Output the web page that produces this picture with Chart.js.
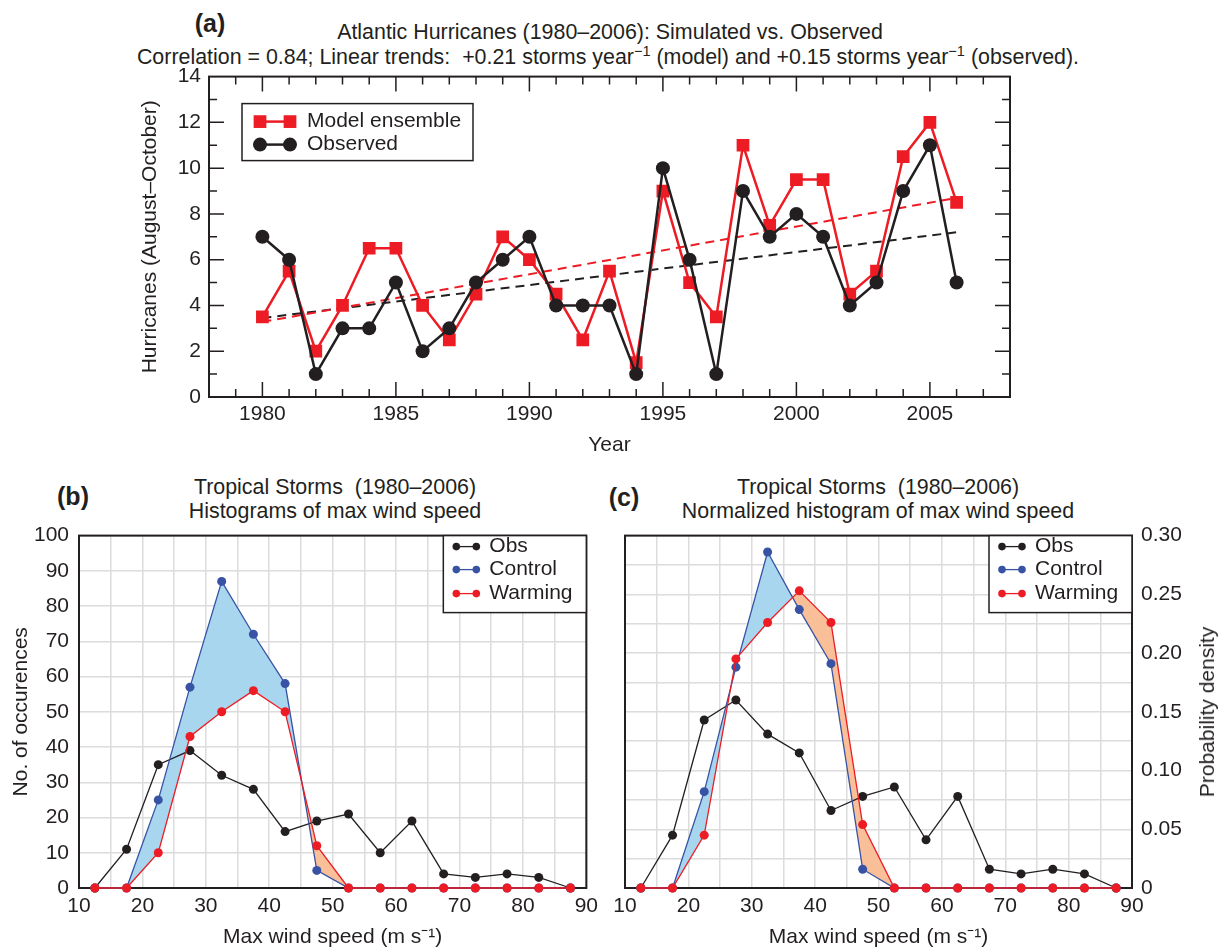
<!DOCTYPE html>
<html>
<head>
<meta charset="utf-8">
<script src="https://cdn.jsdelivr.net/npm/chart.js@4.4.1/dist/chart.umd.min.js"></script>
<style>
  body { margin: 0; background: #fff; width: 1226px; height: 952px; position: relative; overflow: hidden;
         font-family: 'Liberation Sans', Arial, sans-serif; color: #231f20; }
  .box { position: absolute; }
  .txt { position: absolute; white-space: pre; transform: translate(-50%, -50%); font-size: 21.4px; line-height: 24px; }
  .tag { font-weight: bold; font-size: 25px; }
  .rot { transform: translate(-50%, -50%) rotate(-90deg); font-size: 21px; }
  sup { font-size: 0.68em; line-height: 0; vertical-align: 0.55em; }
</style>
</head>
<body>
<div class="txt tag" style="left:210px;top:23px">(a)</div>
<div class="txt" style="left:610px;top:32px">Atlantic Hurricanes (1980–2006): Simulated vs. Observed</div>
<div class="txt" style="left:608px;top:57px">Correlation = 0.84; Linear trends:  +0.21 storms year<sup>−1</sup> (model) and +0.15 storms year<sup>−1</sup> (observed).</div>
<div class="box" style="left:120px;top:56px;width:920px;height:404px"><canvas id="chart-hurricanes"></canvas></div>

<div class="txt tag" style="left:73px;top:496px">(b)</div>
<div class="txt" style="left:335px;top:487px">Tropical Storms  (1980–2006)</div>
<div class="txt" style="left:335px;top:511px">Histograms of max wind speed</div>
<div class="box" style="left:0px;top:513px;width:604px;height:439px"><canvas id="chart-counts"></canvas></div>

<div class="txt tag" style="left:624px;top:497px">(c)</div>
<div class="txt" style="left:878px;top:487px">Tropical Storms  (1980–2006)</div>
<div class="txt" style="left:878px;top:511px">Normalized histogram of max wind speed</div>
<div class="box" style="left:600px;top:514px;width:626px;height:438px"><canvas id="chart-density"></canvas></div>
<div class="txt rot" style="left:1207px;top:712px">Probability density</div>

<script>
// panel (a): hurricanes per season, Aug-Oct
const YEARS = [1980, 1981, 1982, 1983, 1984, 1985, 1986, 1987, 1988, 1989, 1990, 1991, 1992, 1993,
  1994, 1995, 1996, 1997, 1998, 1999, 2000, 2001, 2002, 2003, 2004, 2005, 2006];
const MODEL = [3.5, 5.5, 2, 4, 6.5, 6.5, 4, 2.5, 4.5, 7, 6, 4.5, 2.5, 5.5,
  1.5, 9, 5, 3.5, 11, 7.5, 9.5, 9.5, 4.5, 5.5, 10.5, 12, 8.5];
const OBSERVED = [7, 6, 1, 3, 3, 5, 2, 3, 5, 6, 7, 4, 4, 4,
  1, 10, 6, 1, 9, 7, 8, 7, 4, 5, 9, 11, 5];
const TREND_YEARS = [1980, 2006];
const MODEL_TREND = [3.28, 8.7];
const OBS_TREND = [3.45, 7.2];
const YEAR_TICKS = [1980, 1985, 1990, 1995, 2000, 2005];

// panels (b) and (c): max wind speed bins (m/s)
const WIND = [12.5, 17.5, 22.5, 27.5, 32.5, 37.5, 42.5, 47.5, 52.5, 57.5, 62.5, 67.5, 72.5, 77.5, 82.5, 87.5];
const OBS_COUNT = [0, 11, 35, 39, 32, 28, 16, 19, 21, 10, 19, 4, 3, 4, 3, 0];
const CONTROL_COUNT = [0, 0, 25, 57, 87, 72, 58, 5, 0, 0, 0, 0, 0, 0, 0, 0];
const WARMING_COUNT = [0, 0, 10, 43, 50, 56, 50, 12, 0, 0, 0, 0, 0, 0, 0, 0];
const OBS_DENSITY = [0, 0.045, 0.143, 0.16, 0.131, 0.115, 0.066, 0.078, 0.086, 0.041, 0.078, 0.016, 0.012, 0.016, 0.012, 0];
const CONTROL_DENSITY = [0, 0, 0.082, 0.188, 0.286, 0.237, 0.191, 0.016, 0, 0, 0, 0, 0, 0, 0, 0];
const WARMING_DENSITY = [0, 0, 0.045, 0.195, 0.226, 0.253, 0.226, 0.054, 0, 0, 0, 0, 0, 0, 0, 0];

const FONT = "'Liberation Sans', Arial, sans-serif";
const COLORS = {
  ink: '#231f20',
  red: '#ed1c24',
  blue: '#3953a4',
  blueFill: '#a8d6ef',
  orangeFill: '#f9bf98',
  grid: '#dcdcdc',
};

const pairs = (xs, ys) => xs.map((x, i) => ({ x, y: ys[i] }));

/** frame round the plot area */
const frame = {
  id: 'frame',
  beforeDatasetsDraw(chart, args, o) {
    const { ctx, chartArea: a } = chart;
    ctx.save();
    ctx.strokeStyle = COLORS.ink;
    ctx.lineWidth = o.width;
    ctx.strokeRect(a.left, a.top, a.right - a.left, a.bottom - a.top);
    ctx.restore();
  },
};

/** tick marks pointing into the plot, all four sides */
const innerTicks = {
  id: 'innerTicks',
  beforeDatasetsDraw(chart, args, o) {
    const { ctx, chartArea: a, scales: { x, y } } = chart;
    ctx.save();
    ctx.strokeStyle = COLORS.ink;
    ctx.lineWidth = o.width;
    ctx.beginPath();
    for (let v = Math.ceil(x.min) + 1; v < x.max; v += 1) {
      const px = x.getPixelForValue(v);
      const len = v % o.xMajor === 0 ? o.major : o.minor;
      ctx.moveTo(px, a.bottom); ctx.lineTo(px, a.bottom - len);
      ctx.moveTo(px, a.top); ctx.lineTo(px, a.top + len);
    }
    for (let v = Math.ceil(y.min) + 1; v < y.max; v += 1) {
      const py = y.getPixelForValue(v);
      const len = v % o.yMajor === 0 ? o.major : o.minor;
      ctx.moveTo(a.left, py); ctx.lineTo(a.left + len, py);
      ctx.moveTo(a.right, py); ctx.lineTo(a.right - len, py);
    }
    ctx.stroke();
    ctx.restore();
  },
};

function drawMarker(ctx, style, r, x, y) {
  ctx.beginPath();
  if (style === 'rect') {
    const h = r * Math.SQRT1_2;
    ctx.rect(x - h, y - h, 2 * h, 2 * h);
  } else {
    ctx.arc(x, y, r, 0, Math.PI * 2);
  }
  ctx.fill();
}

/** boxed legend inside the plot area */
const boxLegend = {
  id: 'boxLegend',
  afterDatasetsDraw(chart, args, o) {
    const { ctx, chartArea: a } = chart;
    const left = o.alignRight ? a.right - o.width : a.left + o.x;
    const top = a.top + o.y;
    ctx.save();
    ctx.fillStyle = '#fff';
    ctx.fillRect(left, top, o.width, o.height);
    ctx.strokeStyle = COLORS.ink;
    ctx.lineWidth = o.borderWidth;
    ctx.strokeRect(left, top, o.width, o.height);
    ctx.font = `${o.fontSize}px ${FONT}`;
    ctx.textBaseline = 'middle';
    chart.data.datasets.filter((d) => d.inLegend).forEach((d, i) => {
      const y = top + o.rows[i];
      const x1 = left + o.mark1;
      const x2 = left + o.mark2;
      ctx.strokeStyle = d.borderColor;
      ctx.lineWidth = o.lineWidth;
      ctx.beginPath();
      ctx.moveTo(x1, y);
      ctx.lineTo(x2, y);
      ctx.stroke();
      ctx.fillStyle = d.pointBackgroundColor;
      const r = o.markRadius || d.pointRadius;
      drawMarker(ctx, d.pointStyle, r, x1, y);
      drawMarker(ctx, d.pointStyle, r, x2, y);
      ctx.fillStyle = COLORS.ink;
      ctx.fillText(d.label, left + o.textX, y);
    });
    ctx.restore();
  },
};

function baseOptions() {
  return {
    responsive: true,
    maintainAspectRatio: false,
    animation: false,
    events: [],
    plugins: {
      legend: { display: false },
      tooltip: { enabled: false },
      filler: { drawTime: 'beforeDatasetsDraw' },
    },
  };
}

const tickFont = { family: FONT, size: 21 };
const titleFont = { family: FONT, size: 21 };

/** (a) simulated vs observed hurricanes */
function createHurricaneChart() {
  const ctx = document.getElementById('chart-hurricanes');
  if (!ctx) return;

  new Chart(ctx, {
    type: 'line',
    data: {
      datasets: [
        {
          label: 'Model ensemble',
          data: pairs(YEARS, MODEL),
          borderColor: COLORS.red,
          pointBackgroundColor: COLORS.red,
          borderWidth: 2.5,
          pointStyle: 'rect',
          pointRadius: 9,
          pointBorderWidth: 0,
          order: 1,
          inLegend: true,
        },
        {
          label: 'Observed',
          data: pairs(YEARS, OBSERVED),
          borderColor: COLORS.ink,
          pointBackgroundColor: COLORS.ink,
          borderWidth: 2.5,
          pointStyle: 'circle',
          pointRadius: 7,
          pointBorderWidth: 0,
          order: 0,
          inLegend: true,
        },
        {
          label: 'Model trend',
          data: pairs(TREND_YEARS, MODEL_TREND),
          borderColor: COLORS.red,
          borderWidth: 2,
          borderDash: [9, 6],
          pointRadius: 0,
          order: 2,
        },
        {
          label: 'Observed trend',
          data: pairs(TREND_YEARS, OBS_TREND),
          borderColor: COLORS.ink,
          borderWidth: 2,
          borderDash: [9, 6],
          pointRadius: 0,
          order: 3,
        },
      ],
    },
    options: {
      ...baseOptions(),
      layout: { padding: { top: 10, right: 30, left: 0, bottom: 0 } },
      scales: {
        x: {
          type: 'linear',
          min: 1978,
          max: 2008,
          afterBuildTicks: (s) => { s.ticks = YEAR_TICKS.map((v) => ({ value: v })); },
          afterFit: (s) => { s.height = 63; },
          grid: { display: false, drawTicks: false },
          border: { display: false },
          ticks: { color: COLORS.ink, font: tickFont, padding: 5, autoSkip: false, maxRotation: 0, callback: (v) => String(v) },
          title: { display: true, text: 'Year', color: COLORS.ink, font: titleFont, padding: { top: 0, bottom: 2 } },
        },
        y: {
          min: 0,
          max: 14,
          afterFit: (s) => { s.width = 89; },
          grid: { display: false, drawTicks: false },
          border: { display: false },
          ticks: { stepSize: 2, color: COLORS.ink, font: tickFont, padding: 8 },
          title: { display: true, text: 'Hurricanes (August–October)', color: COLORS.ink, font: titleFont, padding: { top: 18, bottom: 0 } },
        },
      },
      plugins: {
        ...baseOptions().plugins,
        frame: { width: 2 },
        innerTicks: { width: 1.5, major: 15, minor: 8, xMajor: 5, yMajor: 2 },
        boxLegend: {
          x: 33, y: 27, width: 231, height: 57, rows: [18, 41],
          mark1: 18, mark2: 48, textX: 65, lineWidth: 2.5, borderWidth: 1.5, fontSize: 21,
        },
      },
    },
    plugins: [frame, innerTicks, boxLegend],
  });
}

/** datasets shared by the two histogram panels */
function histogramDatasets(obs, control, warming) {
  const common = { borderWidth: 1.3, pointRadius: 4.5, pointBorderWidth: 0, clip: false, inLegend: true };
  return [
    { ...common, label: 'Obs', data: pairs(WIND, obs), borderColor: COLORS.ink, pointBackgroundColor: COLORS.ink, fill: false, order: 2 },
    {
      ...common,
      label: 'Control',
      data: pairs(WIND, control),
      borderColor: COLORS.blue,
      pointBackgroundColor: COLORS.blue,
      fill: { target: 2, above: COLORS.blueFill, below: COLORS.orangeFill },
      order: 1,
    },
    { ...common, label: 'Warming', data: pairs(WIND, warming), borderColor: COLORS.red, pointBackgroundColor: COLORS.red, fill: false, order: 0 },
  ];
}

function windAxis(height) {
  return {
    type: 'linear',
    min: 10,
    max: 90,
    afterFit: (s) => { s.height = height; },
    grid: { color: COLORS.grid, lineWidth: 1.5, drawTicks: false },
    border: { display: false },
    ticks: {
      stepSize: 5,
      autoSkip: false,
      maxRotation: 0,
      color: COLORS.ink,
      font: tickFont,
      padding: 6,
      callback: (v) => (v % 10 === 0 ? String(v) : ''),
    },
    title: { display: true, text: 'Max wind speed (m s⁻¹)', color: COLORS.ink, font: titleFont, padding: { top: 0, bottom: 2 } },
  };
}

const histLegend = {
  alignRight: true, y: 0, width: 143, height: 77, rows: [11, 34, 58],
  mark1: 13, mark2: 33, markRadius: 3.8, textX: 46, lineWidth: 1.3, borderWidth: 1.5, fontSize: 21,
};

/** (b) histogram counts */
function createCountsChart() {
  const ctx = document.getElementById('chart-counts');
  if (!ctx) return;

  new Chart(ctx, {
    type: 'line',
    data: { datasets: histogramDatasets(OBS_COUNT, CONTROL_COUNT, WARMING_COUNT) },
    options: {
      ...baseOptions(),
      layout: { padding: { top: 16, right: 14, left: 0, bottom: 0 } },
      scales: {
        x: windAxis(64),
        y: {
          min: 0,
          max: 100,
          afterFit: (s) => { s.width = 79; },
          grid: { color: COLORS.grid, lineWidth: 1.5, drawTicks: false },
          border: { display: false },
          ticks: { stepSize: 10, color: COLORS.ink, font: tickFont, padding: 10 },
          title: { display: true, text: 'No. of occurences', color: COLORS.ink, font: titleFont, padding: { top: 9, bottom: 0 } },
        },
      },
      plugins: { ...baseOptions().plugins, frame: { width: 2 }, boxLegend: histLegend },
    },
    plugins: [frame, boxLegend],
  });
}

/** (c) normalized histogram, axis on the right */
function createDensityChart() {
  const ctx = document.getElementById('chart-density');
  if (!ctx) return;

  new Chart(ctx, {
    type: 'line',
    data: { datasets: histogramDatasets(OBS_DENSITY, CONTROL_DENSITY, WARMING_DENSITY) },
    options: {
      ...baseOptions(),
      layout: { padding: { top: 16, right: 0, left: 25, bottom: 0 } },
      scales: {
        x: windAxis(64),
        y: {
          position: 'right',
          min: 0,
          max: 0.3,
          afterFit: (s) => { s.width = 94; },
          grid: { color: COLORS.grid, lineWidth: 1.5, drawTicks: false },
          border: { display: false },
          ticks: {
            stepSize: 0.025,
            autoSkip: false,
            color: COLORS.ink,
            font: tickFont,
            padding: 9,
            callback: (v) => {
              if (Math.abs(v) < 1e-9) return '0';
              const k = Math.round(v / 0.05);
              return Math.abs(v / 0.05 - k) < 1e-6 ? v.toFixed(2) : '';
            },
          },
        },
      },
      plugins: { ...baseOptions().plugins, frame: { width: 2 }, boxLegend: histLegend },
    },
    plugins: [frame, boxLegend],
  });
}

function initCharts() {
  createHurricaneChart();
  createCountsChart();
  createDensityChart();
}

initCharts();
</script>
</body>
</html>
